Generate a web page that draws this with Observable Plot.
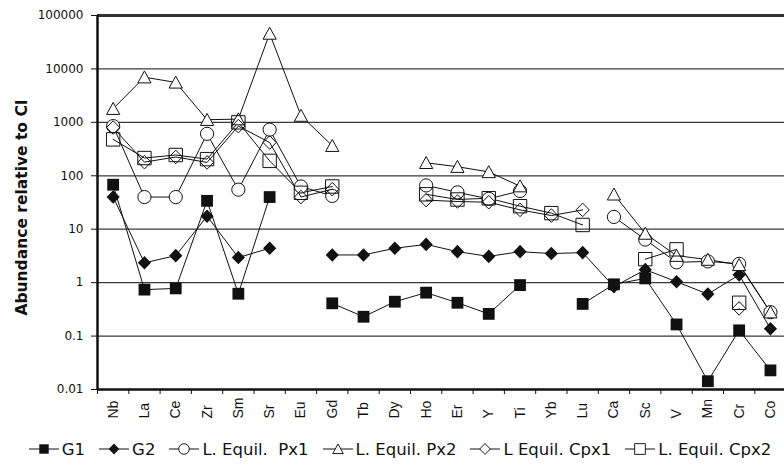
<!DOCTYPE html>
<html><head><meta charset="utf-8">
<script src="https://cdn.jsdelivr.net/npm/d3@7"></script>
<script src="https://cdn.jsdelivr.net/npm/@observablehq/plot@0.6"></script>
<style>
body{margin:0;background:#fff;}
#wrap{position:relative;width:784px;height:465px;overflow:hidden;background:#fff;}
#legend{position:absolute;left:0;top:438px;width:784px;height:22px;display:flex;justify-content:center;align-items:center;font-family:"DejaVu Sans";font-size:16.5px;color:#111;padding-left:16px;box-sizing:border-box;}
.item{display:flex;align-items:center;margin:0 7px;white-space:pre;}
.item svg{margin-right:3px;}
</style></head>
<body><div id="wrap"><div id="chart"></div><div id="legend"></div></div>
<script>
const cats = ["Nb","La","Ce","Zr","Sm","Sr","Eu","Gd","Tb","Dy","Ho","Er","Y","Ti","Yb","Lu","Ca","Sc","V","Mn","Cr","Co"];
const seriesNames = ["G1","G2","L. Equil.  Px1","L. Equil. Px2","L Equil. Cpx1","L. Equil. Cpx2"];
const g1   = [68, 0.74, 0.78, 34, 0.62, 40, null, 0.41, 0.23, 0.44, 0.65, 0.42, 0.26, 0.9, null, 0.40, 0.93, 1.2, 0.165, 0.0143, 0.128, 0.0228];
const g2   = [40, 2.35, 3.2, 17.5, 2.95, 4.4, null, 3.3, 3.3, 4.4, 5.2, 3.8, 3.1, 3.8, 3.5, 3.65, 0.84, 1.75, 1.04, 0.61, 1.4, 0.137];
const px1  = [850, 40, 40, 610, 55, 730, 63, 42, null, null, 66, 49, 37, 52, null, null, 17, 6.4, 2.4, 2.5, 2.25, 0.28];
const px2  = [1800, 7000, 5600, 1120, 1150, 46000, 1340, 365, null, null, 175, 148, 118, 64, null, null, 45, 8.3, 3.2, 2.7, 2.15, 0.28];
const cpx1 = [800, 180, 225, 178, 850, 420, 40, 56, null, null, 35, 33, 32, 23, 18, 23, null, null, null, null, 0.33, null];
const cpx2 = [480, 215, 245, 205, 1000, 190, 48, 63, null, null, 45, 36, 38, 27, 20, 12, null, 2.75, 4.2, null, 0.42, null];
const yTicks = [0.01, 0.1, 1, 10, 100, 1000, 10000, 100000];
const yTickLabels = ["0.01","0.1","1","10","100","1000","10000","100000"];
const yLabel = "Abundance relative to CI";

// marker shapes
const shapes = {
  sqFilled: {draw(c){c.rect(-5.9,-5.9,11.8,11.8);}},
  diaFilled: {draw(c){c.moveTo(0,-6.8);c.lineTo(6.6,0);c.lineTo(0,6.8);c.lineTo(-6.6,0);c.closePath();}},
  circle: {draw(c){c.moveTo(6.6,0);c.arc(0,0,6.6,0,2*Math.PI);c.closePath();}},
  triangle: {draw(c){c.moveTo(0,-6.3);c.lineTo(6.6,5.7);c.lineTo(-6.6,5.7);c.closePath();}},
  diaOpen: {draw(c){c.moveTo(0,-6.8);c.lineTo(6.6,0);c.lineTo(0,6.8);c.lineTo(-6.6,0);c.closePath();}},
  sqOpen: {draw(c){c.rect(-6.7,-6.7,13.4,13.4);}}
};
const styles = [
  {symbol: shapes.sqFilled, fill: "#111", stroke: "none"},
  {symbol: shapes.diaFilled, fill: "#111", stroke: "none"},
  {symbol: shapes.circle, fill: "white", stroke: "#111"},
  {symbol: shapes.triangle, fill: "white", stroke: "#111"},
  {symbol: shapes.diaOpen, fill: "none", stroke: "#111"},
  {symbol: shapes.sqOpen, fill: "none", stroke: "#111"}
];
const allSeries = [g1, g2, px1, px2, cpx1, cpx2];
const rows = [];
allSeries.forEach((arr, s) => arr.forEach((v, i) => rows.push({series: seriesNames[s], s, i, v: v == null ? NaN : v})));

const marks = [
  Plot.ruleY(yTicks.slice(1, -1), {stroke: "#3a3a3a", strokeWidth: 1.3}),
  Plot.line(rows, {x: "i", y: "v", z: "series", stroke: "#111", strokeWidth: 1})
];
styles.forEach((st, s) => {
  marks.push(Plot.dot(rows.filter(d => d.s === s && !isNaN(d.v)), {
    x: "i", y: "v", r: 1, symbol: st.symbol, fill: st.fill, stroke: st.stroke, strokeWidth: 1
  }));
});
marks.push(
  Plot.ruleY([100000], {stroke: "#333", strokeWidth: 3}),
  Plot.ruleY([0.01], {stroke: "#111", strokeWidth: 2.5}),
  Plot.ruleX([-0.5], {stroke: "#111", strokeWidth: 2.5}),
  Plot.axisY({ticks: yTicks, tickFormat: d => yTickLabels[yTicks.indexOf(d)], tickSize: 6, tickPadding: 8, fontSize: 12, label: null, stroke: "#111"}),
  Plot.axisX({ticks: d3.range(23).map(i => i - 0.5), tickFormat: () => "", tickSize: 5, label: null, stroke: "#111"}),
  Plot.text(d3.range(cats.length), {x: d => d, text: d => cats[d], frameAnchor: "bottom", dy: 29, rotate: -90, textAnchor: "start", lineAnchor: "middle", fontSize: 14, fontFamily: "Liberation Sans", fill: "#111"}),
  Plot.text([yLabel], {frameAnchor: "left", dx: -75, dy: 5, rotate: -90, textAnchor: "middle", lineAnchor: "middle", fontWeight: "bold", fontSize: 15.5, fontFamily: "DejaVu Sans", fill: "#111"})
);

const chart = Plot.plot({
  width: 784, height: 430,
  marginLeft: 97, marginTop: 15, marginBottom: 41, marginRight: 0,
  style: {fontFamily: "DejaVu Sans", fontSize: "12px", color: "#111", background: "white", overflow: "visible"},
  x: {domain: [-0.5, 21.5], range: [97, 785.6], axis: null},
  y: {type: "log", domain: [0.01, 100000], axis: null},
  marks
});
document.getElementById("chart").appendChild(chart);

// legend
const legend = document.getElementById("legend");
function swatch(st) {
  const ns = "http://www.w3.org/2000/svg";
  const svg = document.createElementNS(ns, "svg");
  svg.setAttribute("width", 30); svg.setAttribute("height", 18);
  const line = document.createElementNS(ns, "line");
  line.setAttribute("x1", 0); line.setAttribute("x2", 30); line.setAttribute("y1", 9); line.setAttribute("y2", 9);
  line.setAttribute("stroke", "#111"); line.setAttribute("stroke-width", 1);
  svg.appendChild(line);
  const p = d3.path(); st.symbol.draw(p);
  const path = document.createElementNS(ns, "path");
  path.setAttribute("d", p.toString());
  path.setAttribute("transform", "translate(15,9) scale(0.8)");
  path.setAttribute("fill", st.fill === "none" ? "white" : st.fill);
  path.setAttribute("stroke", st.stroke); path.setAttribute("stroke-width", 1.2);
  svg.appendChild(path);
  return svg;
}
seriesNames.forEach((name, s) => {
  const item = document.createElement("span");
  item.className = "item";
  item.appendChild(swatch(styles[s]));
  item.appendChild(document.createTextNode(name));
  legend.appendChild(item);
});
</script>
</body></html>
